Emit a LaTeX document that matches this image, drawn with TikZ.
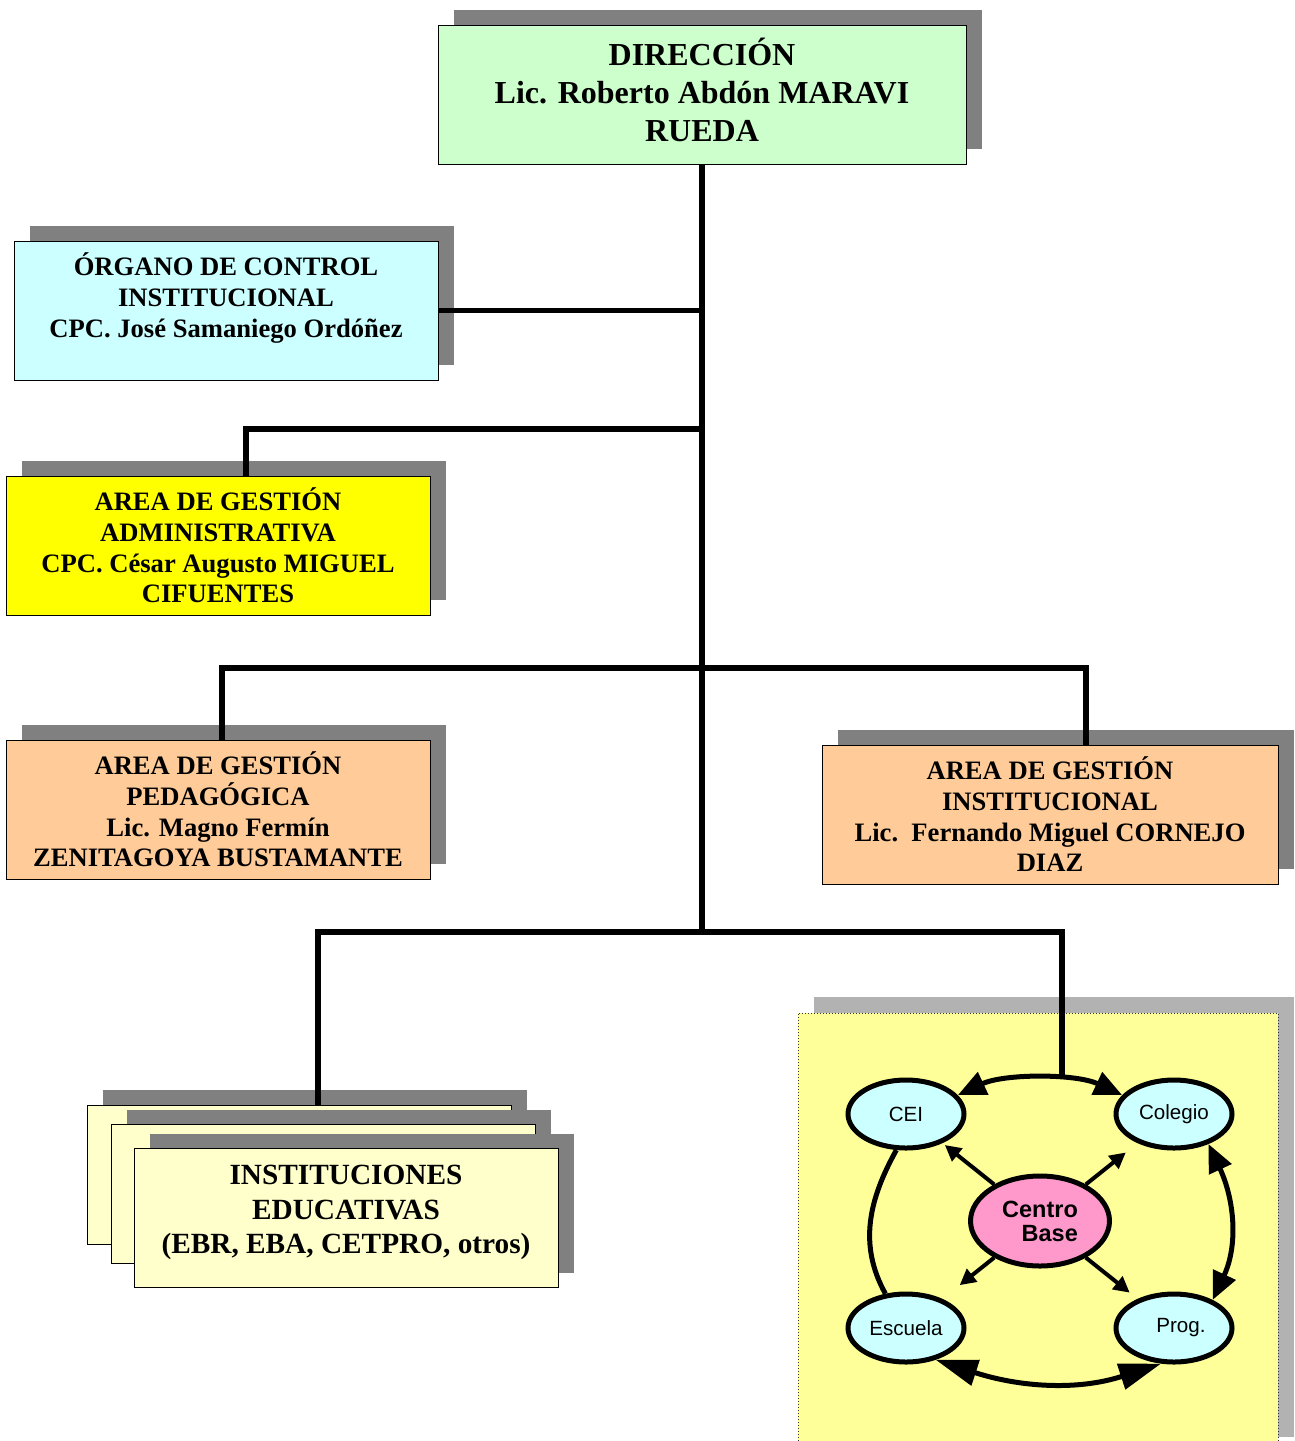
\documentclass[tikz,border=0pt]{standalone}
\usepackage{fontspec}
\setmainfont{Liberation Serif}
\newfontfamily\arialfont{Liberation Sans}
\usetikzlibrary{arrows.meta,positioning,shapes.geometric,shadows}

\definecolor{dirgreen}{HTML}{CCFFCC}
\definecolor{ocicyan}{HTML}{CCFFFF}
\definecolor{admyellow}{HTML}{FFFF00}
\definecolor{pedpeach}{HTML}{FFCC99}
\definecolor{ieivory}{HTML}{FFFFCC}
\definecolor{panelyellow}{HTML}{FFFF99}
\definecolor{cbpink}{HTML}{FF99CC}

\begin{document}
\begin{tikzpicture}[x=1pt,y=1pt,
    mybox/.style={
        rectangle,
        draw=black,
        line width=0.8pt,
        align=center,
        inner sep=0pt,
        minimum width=424pt,
        minimum height=139pt,
        font=\bfseries\fontsize{26.6}{30.7}\selectfont,
        drop shadow={shadow xshift=16pt,shadow yshift=15pt,fill=gray,opacity=1}},
    myellipse/.style={
        ellipse,
        draw=black,
        line width=5pt,
        fill=ocicyan,
        inner sep=0pt,
        minimum width=116pt,
        minimum height=68pt,
        font=\arialfont\fontsize{20.6}{24}\selectfont},
    myline/.style={line width=5.5pt},
    myring/.style={line width=5pt},
    myarrow/.style={line width=5pt,
        {Triangle[length=28pt,width=24pt]}-{Triangle[length=28pt,width=24pt]}},
    mybigarrow/.style={line width=5pt,
        {Triangle[length=42pt,width=26pt]}-{Triangle[length=42pt,width=26pt]}},
    myspoke/.style={line width=4pt,-{Triangle[length=16pt,width=16pt]}},
    node distance=107pt and 134pt,
    on grid
    ]
    \useasboundingbox (0,0) rectangle (1294,-1441);

    % chart boxes
    \node[mybox,fill=dirgreen,minimum width=528pt,
        font=\bfseries\fontsize{32}{38}\selectfont] (dir) at (702,-94.5)
        {DIRECCIÓN\\Lic. Roberto Abdón MARAVI\\RUEDA\\[-28pt]\mbox{}};
    \node[mybox,fill=ocicyan] (oci) at (226,-310.5)
        {ÓRGANO DE CONTROL\\INSTITUCIONAL\\CPC. José Samaniego Ordóñez\\\mbox{}};
    \node[mybox,fill=admyellow] (adm) at (218,-545.5)
        {AREA DE GESTIÓN\\ADMINISTRATIVA\\CPC. César Augusto MIGUEL\\CIFUENTES};
    \node[mybox,fill=pedpeach] (ped) at (218,-809.5)
        {AREA DE GESTIÓN\\PEDAGÓGICA\\Lic. Magno Fermín\\ZENITAGOYA BUSTAMANTE};
    \node[mybox,fill=pedpeach,minimum width=456pt] (ins) at (1050,-814.5)
        {AREA DE GESTIÓN\\INSTITUCIONAL\\Lic.\ \ Fernando Miguel CORNEJO\\DIAZ};

    % stacked institutions
    \node[mybox,fill=ieivory] (ie1) at (299,-1174.5) {};
    \node[mybox,fill=ieivory] (ie2) at (323,-1194) {};
    \node[mybox,fill=ieivory,font=\bfseries\fontsize{29.3}{34.5}\selectfont] (ie3) at (346,-1218)
        {INSTITUCIONES\\EDUCATIVAS\\(EBR, EBA, CETPRO, otros)\\[-18pt]\mbox{}};

    % centro base panel
    \node[draw=black!80,dotted,line width=1pt,fill=panelyellow,
        minimum width=480pt,minimum height=440pt,
        drop shadow={shadow xshift=16pt,shadow yshift=16pt,fill=gray!60,opacity=1}]
        (panel) at (1038,-1233) {};
    \node[myellipse,fill=cbpink,minimum width=139pt,minimum height=90pt,align=right,
        font=\arialfont\bfseries\fontsize{23.5}{24}\selectfont] (cb) at (1040,-1221) {Centro\\Base};
    \node[myellipse,above left=of cb] (cei) {CEI};
    \node[myellipse,above right=of cb] (colegio) {Colegio};
    \node[myellipse,below left=of cb] (escuela) {Escuela};
    \node[myellipse,below right=of cb] (prog) {\hspace*{14pt}Prog.};

    \draw[myarrow] (cei.20) to[out=25,in=155,looseness=0.8] (colegio.160);
    \draw[myarrow] (colegio.-41) to[out=-65,in=65] (prog.36);
    \draw[mybigarrow] (escuela.-47) to[out=-18,in=198] (prog.-110);
    \draw[myring] (cei.-105) to[out=-119,in=119] (escuela.121);

    \foreach \t/\s in {cei/3pt,colegio/15pt,escuela/22pt,prog/10pt}
        \draw[myspoke,shorten >=\s] (cb) -- (\t);

    % connectors
    \coordinate (jo) at (oci.east -| dir.south);
    \coordinate (ja) at (702,-429);
    \coordinate (jp) at (702,-668);
    \coordinate (jb) at (702,-932);
    \coordinate (adm-in) at ([xshift=28pt]adm.north);
    \coordinate (ped-in) at ([xshift=4pt]ped.north);
    \coordinate (ins-in) at ([xshift=36pt]ins.north);
    \coordinate (ie-in) at ([xshift=19pt]ie1.north);
    \coordinate (ringtop) at (1062,-1078);

    \draw[myline] (dir.south) -- (jb);
    \draw[myline] (oci.east) -- (jo);
    \foreach \i/\j in {adm-in/ja,ped-in/jp,ins-in/jp,ie-in/jb,ringtop/jb}
        \draw[myline] (\i) |- (\j);
\end{tikzpicture}
\end{document}
